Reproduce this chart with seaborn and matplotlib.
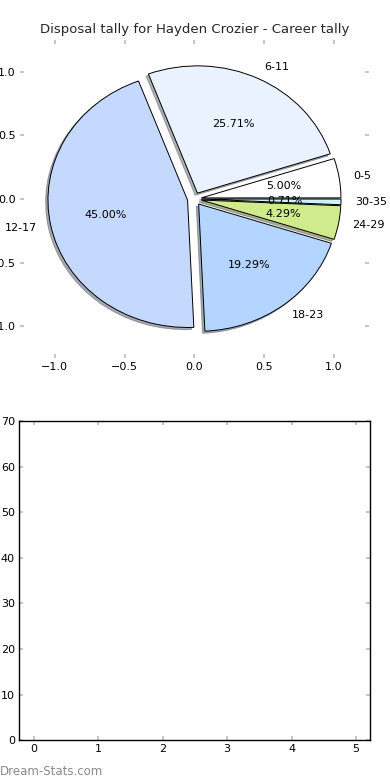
import matplotlib
matplotlib.use("Agg")
import matplotlib.pyplot as plt
import seaborn as sns

# --- data ---
labels = ['0-5', '6-11', '12-17', '18-23', '24-29', '30-35']
counts = [7, 36, 63, 27, 6, 1]
colors = ['#ffffff', '#eaf1ff', '#c5d9ff', '#b4d5ff', '#d0eb8b', '#cdf3ff']
title = 'Disposal tally for Hayden Crozier - Career tally'

bar_ticks = [0, 1, 2, 3, 4, 5]
bar_ylim = (0, 70)

sns.set_theme(style="white")
plt.rcParams['font.family'] = ['DejaVu Sans']
plt.rcParams.update({
    'xtick.direction': 'in', 'ytick.direction': 'in',
    'xtick.color': '#bbbbbb', 'ytick.color': '#bbbbbb',
    'xtick.labelcolor': 'black', 'ytick.labelcolor': 'black',
    'xtick.labelsize': 8, 'ytick.labelsize': 8,
    'xtick.major.size': 3, 'ytick.major.size': 3,
    'xtick.major.width': 1.2, 'ytick.major.width': 1.2,
    'xtick.bottom': True, 'xtick.top': True,
    'ytick.left': True, 'ytick.right': True,
})

fig = plt.figure(figsize=(3.9, 7.8), dpi=100)

# pie chart (top)
ax1 = fig.add_axes([0.051, 0.541, 0.895, 0.408])
wedges, texts, autotexts = ax1.pie(
    counts, labels=labels, colors=colors, explode=[0.05] * len(counts),
    autopct='%1.2f%%', shadow={'ox': -0.012, 'oy': -0.012, 'shade': 0.6},
    startangle=0,
    wedgeprops={'edgecolor': 'black', 'linewidth': 0.7},
    textprops={'fontsize': 8, 'color': 'black'})
ax1.set_aspect('auto')
ax1.set_frame_on(True)
for s in ax1.spines.values():
    s.set_visible(False)
ax1.set_xlim(-1.25, 1.25)
ax1.set_ylim(-1.25, 1.25)
ax1.set_xticks([-1.0, -0.5, 0.0, 0.5, 1.0])
ax1.set_yticks([-1.0, -0.5, 0.0, 0.5, 1.0])
ax1.tick_params(pad=3)
ax1.set_title(title, fontsize=9.5, pad=5)

# empty bar area (bottom)
ax2 = fig.add_axes([0.049, 0.051, 0.9, 0.409])
ax2.set_xlim(-0.23, 5.22)
ax2.set_ylim(*bar_ylim)
ax2.set_xticks(bar_ticks)
ax2.set_yticks(range(0, 71, 10))
for s in ax2.spines.values():
    s.set_visible(True)
    s.set_color('black')
    s.set_linewidth(1)
ax2.tick_params(pad=3)

fig.text(0.0, 0.003, 'Dream-Stats.com', fontsize=8.5, color='#8a8a8a',
         ha='left', va='bottom')

fig.savefig('out.png', dpi=100)
